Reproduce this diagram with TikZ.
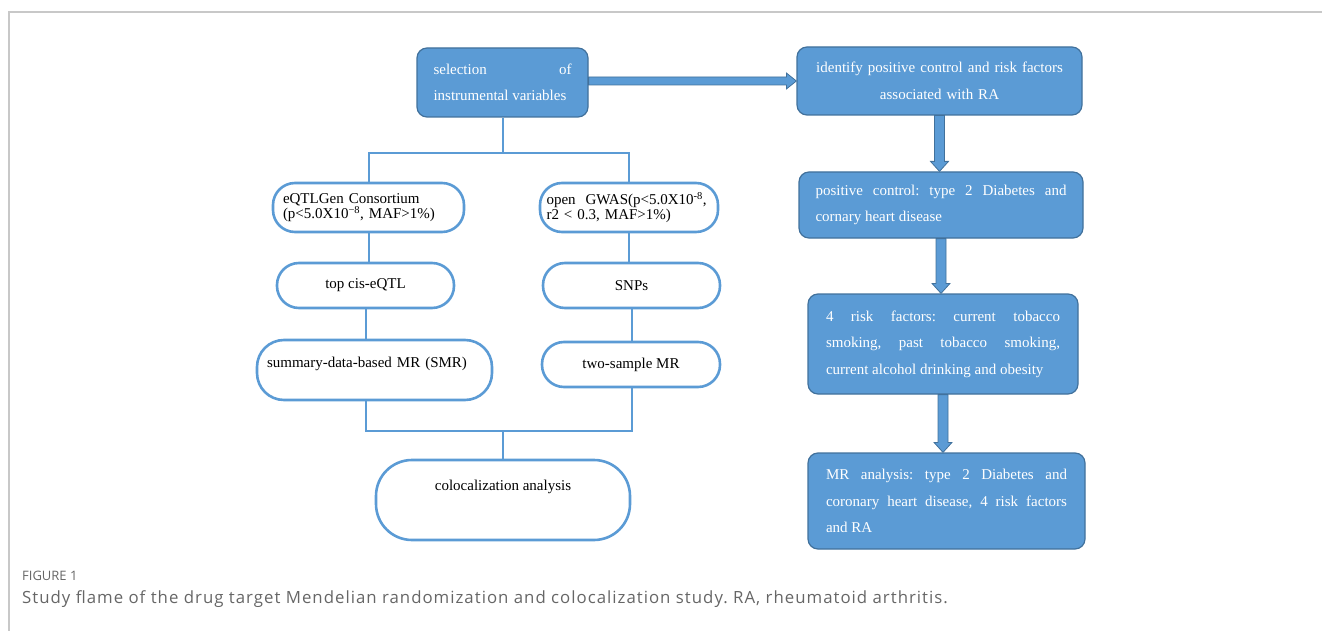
\documentclass[tikz,border=0pt]{standalone}
\usepackage{fontspec}
\setmainfont{Liberation Serif}
\newfontfamily\capfont{Open Sans}
\newfontfamily\capfontwide[LetterSpace=6]{Open Sans}
\usetikzlibrary{calc}
\definecolor{boxblue}{HTML}{5B9BD5}
\definecolor{boxedge}{HTML}{41719C}
\definecolor{framegrey}{HTML}{C8C8C8}
\definecolor{capgrey}{HTML}{666666}
\tolerance=9999
\hbadness=10000
\frenchspacing
\newcommand\vblockarrow[2]{%
  \filldraw[blockarrow] let \p1=(#1), \p2=(#2) in
    (\x1-5pt,\y1) -- (\x1+5pt,\y1) -- (\x1+5pt,\y2+10pt) -- (\x1+9pt,\y2+10pt)
    -- (\x1,\y2) -- (\x1-9pt,\y2+10pt) -- (\x1-5pt,\y2+10pt) -- cycle;}
\newcommand\hblockarrow[2]{%
  \filldraw[blockarrow] let \p1=(#1), \p2=(#2) in
    (\x1,\y2+4pt) -- (\x2-10pt,\y2+4pt) -- (\x2-10pt,\y2+8pt) -- (\x2,\y2)
    -- (\x2-10pt,\y2-8pt) -- (\x2-10pt,\y2-4pt) -- (\x1,\y2-4pt) -- cycle;}
\begin{document}
\begin{tikzpicture}[x=1pt,y=-1pt,
  bluebox/.style={draw=boxedge, line width=1.2pt, fill=boxblue, rounded corners=10pt,
    text=white, inner sep=0pt, font=\fontsize{15}{26.5}\selectfont\frenchspacing, align=justify},
  whitebox/.style={draw=boxblue, line width=2.6pt, fill=white, rounded corners=22pt,
    inner sep=0pt, font=\fontsize{15}{15}\selectfont\frenchspacing, align=center},
  link/.style={draw=boxblue, line width=2pt},
  blockarrow/.style={fill=boxblue, draw=boxedge, line width=0.8pt}]

\useasboundingbox (0,0) rectangle (1322,631);
\draw[framegrey, line width=1.2pt] (9,631) -- (9,12) -- (1322,12);

% right column (blue boxes)
\node[bluebox, minimum width=171, minimum height=69, text width=138] (sel) at (502.5,82.5)
  {selection of\linebreak instrumental variables};
\node[bluebox, minimum width=285, minimum height=68, text width=270, align=center] (ident) at (939.5,81)
  {identify positive control and risk factors\\associated with RA};
\node[bluebox, minimum width=284, minimum height=66, text width=251] (pc) at (941,205)
  {positive control: type 2 Diabetes and\linebreak cornary heart disease};
\node[bluebox, minimum width=270, minimum height=100, text width=234] (rf) at (943,344)
  {4 risk factors: current tobacco\linebreak smoking, past tobacco smoking,\linebreak current alcohol drinking and obesity};
\node[bluebox, minimum width=277, minimum height=96, text width=241] (mr) at (946.5,501)
  {MR analysis: type 2 Diabetes and\linebreak coronary heart disease, 4 risk factors\linebreak and RA};

\hblockarrow{sel.east}{ident.west}
\vblockarrow{ident.south}{pc.north}
\vblockarrow{pc.south}{rf.north}
\vblockarrow{rf.south}{mr.north}

% left tree (white boxes)
\node[whitebox, minimum width=191, minimum height=49, text width=171, align=left] (eq) at (368.5,207.5)
  {eQTLGen Consortium\\(p<5.0X10\textsuperscript{−8}, MAF>1\%)};
\node[whitebox, minimum width=178, minimum height=49, text width=165, align=left] (og) at (629,207.5)
  {open\ \ GWAS(p<5.0X10\textsuperscript{-8},\\r2 < 0.3, MAF>1\%)};
\node[whitebox, minimum width=177, minimum height=45] (top) at (365.5,285.5) {top cis-eQTL};
\node[whitebox, minimum width=177, minimum height=45] (snp) at (631.5,285.5) {SNPs};
\node[whitebox, minimum width=235, minimum height=60, rounded corners=27pt, text width=215, align=left,
  text height=11pt, text depth=16pt] (smr) at (374.5,370) {summary-data-based MR (SMR)};
\node[whitebox, minimum width=178, minimum height=45] (tsmr) at (631,364.5) {two-sample MR};
\node[whitebox, minimum width=254, minimum height=80, rounded corners=36pt,
  text height=11pt, text depth=30pt] (colo) at (503,500) {colocalization analysis};

\draw[link] (sel.south) -- ++(0,35) coordinate (j1);
\draw[link] (eq.north) |- (j1) -| (og.north);
\draw[link] (eq.south) -- (eq.south |- top.north);
\draw[link] (og.south) -- (og.south |- snp.north);
\draw[link] (top.south) -- (top.south |- smr.north);
\draw[link] (snp.south) -- (snp.south |- tsmr.north);
\draw[link] (top.south |- smr.south) -- ++(0,30) coordinate (j2) -| (snp.south |- tsmr.south);
\draw[link] (colo.north) -- (colo.north |- j2);

% caption
\node[anchor=west, inner sep=0pt, text=capgrey, font=\capfont\fontsize{13}{13}\selectfont] (figlabel) at (22,576) {FIGURE 1};
\node[anchor=west, inner sep=0pt, text=capgrey, font=\capfontwide\fontsize{16.8}{16.8}\selectfont] (caption) at (22,599)
  {Study flame of the drug target Mendelian randomization and colocalization study. RA, rheumatoid arthritis.};
\end{tikzpicture}
\end{document}
